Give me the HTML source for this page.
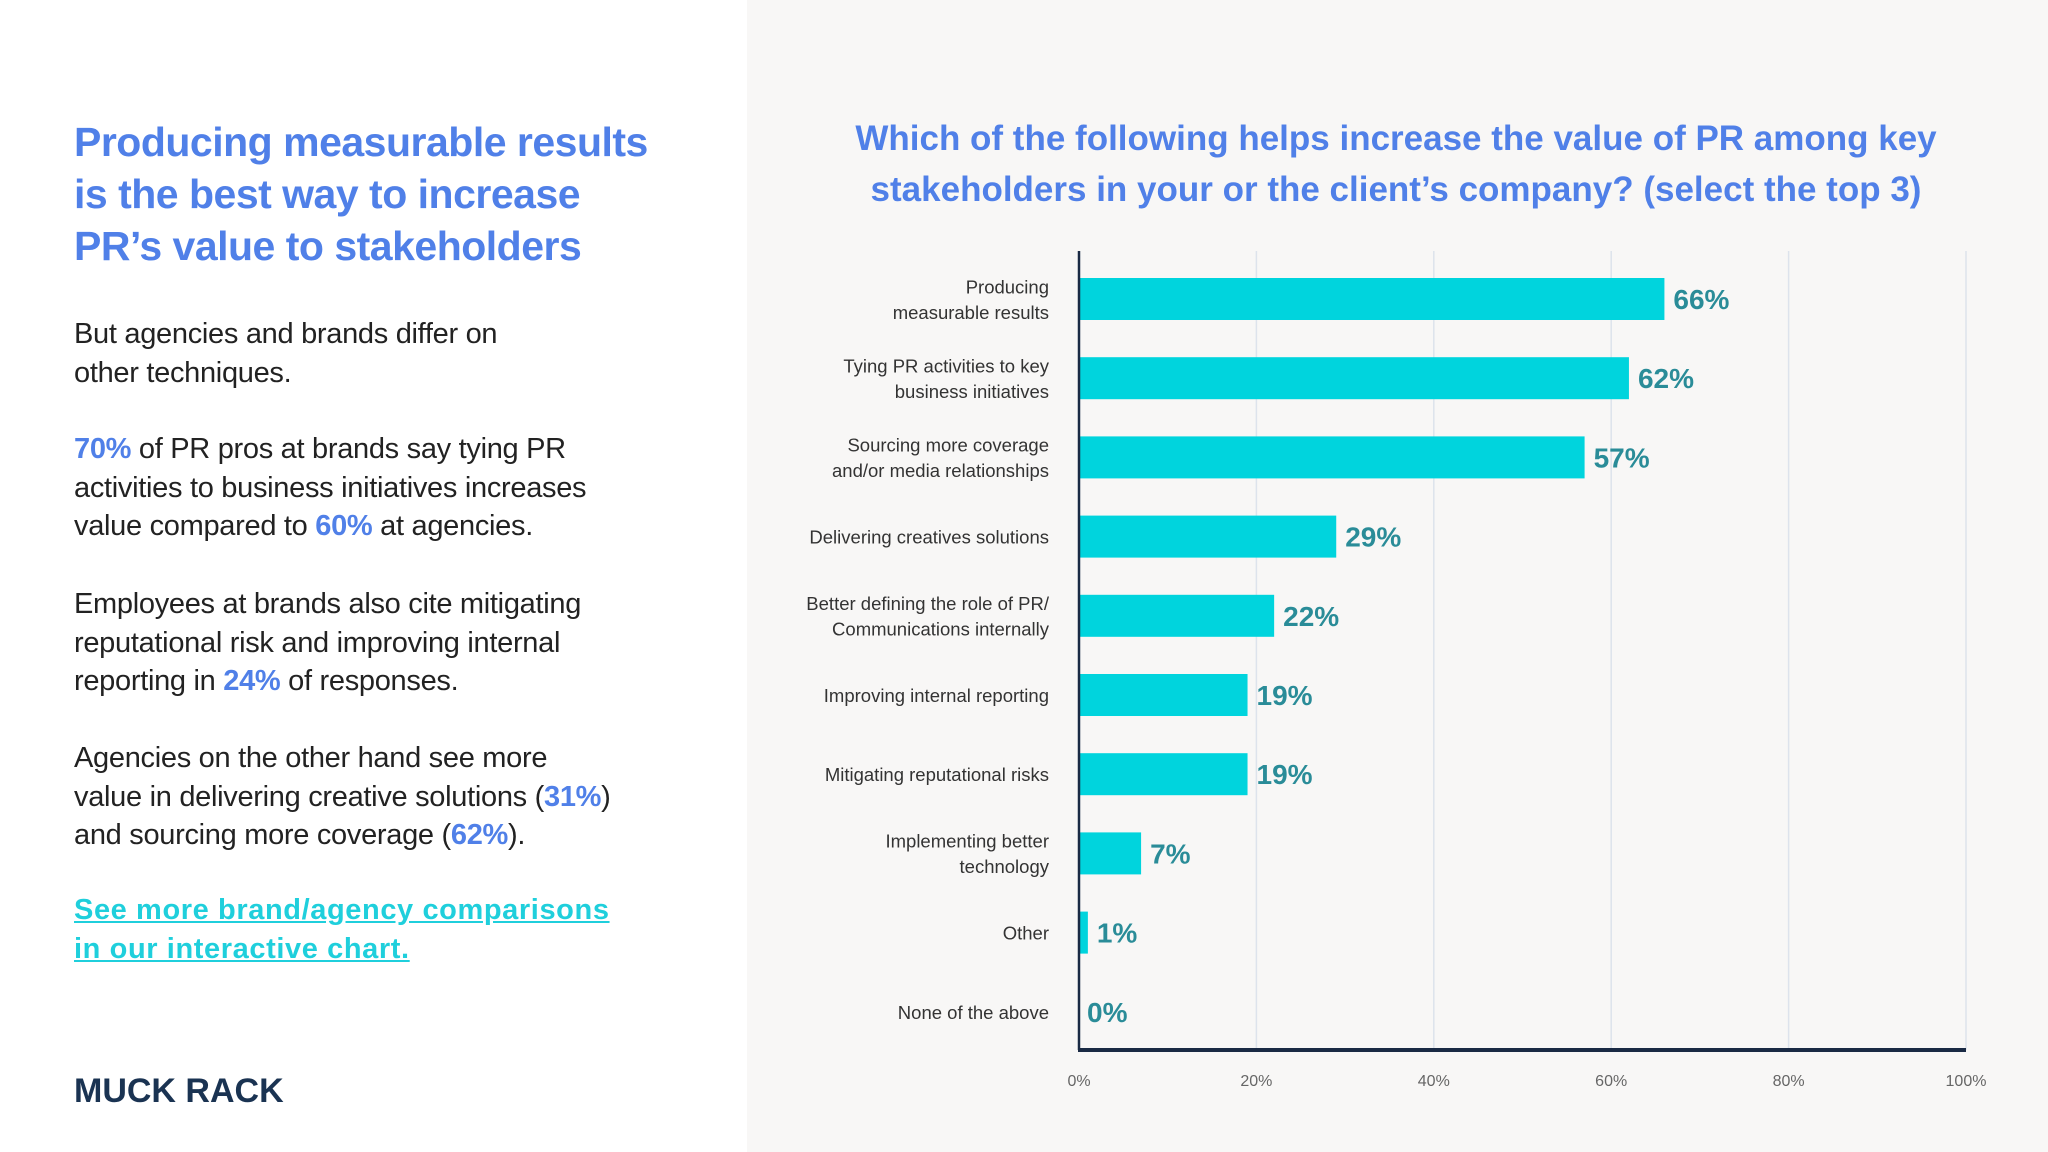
<!DOCTYPE html>
<html><head><meta charset="utf-8">
<style>
body{margin:0;width:2048px;height:1152px;overflow:hidden;background:#fff;font-family:"Liberation Sans",sans-serif;position:relative}
#left{position:absolute;left:0;top:0;width:747px;height:1152px;background:#fff}
#right{position:absolute;left:747px;top:0;width:1301px;height:1152px;background:#f8f7f6}
h1{position:absolute;left:74px;top:116px;margin:0;font-size:41px;line-height:52px;color:#5080e8;font-weight:bold;letter-spacing:-0.5px}
.p{position:absolute;left:74px;margin:0;font-size:29px;line-height:38.5px;color:#222;letter-spacing:-0.3px}
.b{color:#5080e8;font-weight:bold}
.link{color:#1fcfdc;font-weight:bold;text-decoration:underline;letter-spacing:0.6px}
#logo{position:absolute;left:74px;top:1072px;font-size:34px;font-weight:bold;color:#1a3352;letter-spacing:0px}
#title{position:absolute;left:820px;width:1152px;top:113px;text-align:center;font-size:35px;line-height:51px;color:#5080e8;font-weight:bold;margin:0}
svg{position:absolute;left:0;top:0}
</style></head><body>
<div id="left"></div>
<div id="right"></div>
<h1>Producing measurable results<br>is the best way to increase<br>PR’s value to stakeholders</h1>
<p class="p" style="top:315px">But agencies and brands differ on<br>other techniques.</p>
<p class="p" style="top:430px"><span class="b">70%</span> of PR pros at brands say tying PR<br>activities to business initiatives increases<br>value compared to <span class="b">60%</span> at agencies.</p>
<p class="p" style="top:585px">Employees at brands also cite mitigating<br>reputational risk and improving internal<br>reporting in <span class="b">24%</span> of responses.</p>
<p class="p" style="top:739px">Agencies on the other hand see more<br>value in delivering creative solutions (<span class="b">31%</span>)<br>and sourcing more coverage (<span class="b">62%</span>).</p>
<p class="p" style="top:891px"><span class="link">See more brand/agency comparisons<br>in our interactive chart.</span></p>
<div id="logo">MUCK RACK</div>
<p id="title">Which of the following helps increase the value of PR among key<br>stakeholders in your or the client’s company? (select the top 3)</p>
<svg id="chart" width="2048" height="1152"></svg>
<script>
const categories=[["Producing","measurable results"],["Tying PR activities to key","business initiatives"],["Sourcing more coverage","and/or media relationships"],["Delivering creatives solutions"],["Better defining the role of PR/","Communications internally"],["Improving internal reporting"],["Mitigating reputational risks"],["Implementing better","technology"],["Other"],["None of the above"]];
const values=[66,62,57,29,22,19,19,7,1,0];
const valueLabels=["66%","62%","57%","29%","22%","19%","19%","7%","1%","0%"];
const ticks=[0,20,40,60,80,100];
const tickLabels=["0%","20%","40%","60%","80%","100%"];
const svg=document.getElementById('chart');
const NS='http://www.w3.org/2000/svg';
const x0=1079,x1=1966,yTop=251,yBot=1050,first=299,step=79.2,bh=42;
const xs=v=>x0+(x1-x0)*v/100;
const yc=i=>first+i*step;
function mk(t,a){const e=document.createElementNS(NS,t);for(const k in a)e.setAttribute(k,a[k]);svg.appendChild(e);return e;}
ticks.forEach((t,i)=>{
  if(t>0){const g=mk('line',{x1:xs(t),x2:xs(t),y1:yTop,y2:yBot,stroke:'#dde3ec','stroke-width':1.5});
  
  }
  const l=mk('text',{x:xs(t),y:yBot+36,'text-anchor':'middle','font-size':16,fill:'#666','font-family':'Liberation Sans'});
  l.textContent=tickLabels[i];
  
  
});
values.forEach((v,i)=>{
  const r=mk('rect',{x:x0,y:yc(i)-bh/2,width:Math.max(0,xs(v)-x0),height:bh,fill:'#00d4dd'});
  
  
  const t=mk('text',{x:xs(v)+(v>0?9:8),y:yc(i)+10,'font-size':28,'font-weight':'bold',fill:'#2a8c98','font-family':'Liberation Sans'});
  t.textContent=valueLabels[i];
  
  
  const lines=categories[i];
  lines.forEach((s,j)=>{
    const c=mk('text',{x:1049,y:yc(i)+7+(j-(lines.length-1)/2)*25.5,'text-anchor':'end','font-size':18.5,fill:'#333','font-family':'Liberation Sans'});
    c.textContent=s;
    
    
  });
});
const ya=mk('line',{x1:x0,x2:x0,y1:yTop,y2:yBot,stroke:'#1a2a44','stroke-width':2.5});


const xa=mk('line',{x1:x0-1,x2:x1,y1:yBot,y2:yBot,stroke:'#1a2a44','stroke-width':4});


</script>
</body></html>
